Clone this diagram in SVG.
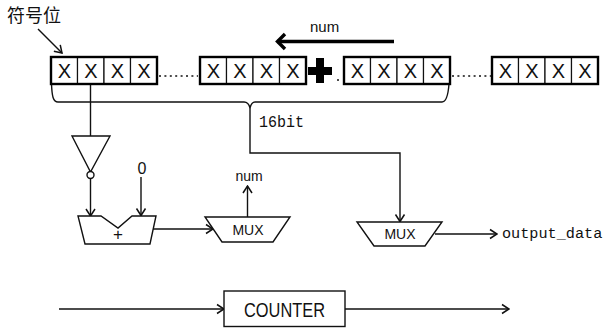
<svg xmlns="http://www.w3.org/2000/svg" width="604" height="328" viewBox="0 0 604 328">
<style>
.cell{fill:#fff;stroke:#111;stroke-width:1.2}
.frame{fill:none;stroke:#000;stroke-width:2.4}
.x{font:20px "Liberation Sans",sans-serif;text-anchor:middle;fill:#111}
.mono{font-family:"Liberation Mono","Noto Sans CJK SC",monospace;fill:#111}
.sans{font-family:"Liberation Sans",sans-serif;fill:#111}
.shape{fill:#fff;stroke:#111;stroke-width:1.4}
.line{fill:none;stroke:#111;stroke-width:1.4}
.dots{fill:none;stroke:#111;stroke-width:1.4;stroke-dasharray:2 3.400}
</style>
<defs>
<marker id="a" viewBox="0 0 12 12" refX="11" refY="6" markerWidth="12" markerHeight="12" markerUnits="userSpaceOnUse" orient="auto"><path d="M4 1.500L11 6L4 10.500" fill="none" stroke="#111" stroke-width="1.500"/></marker>
<marker id="b" viewBox="0 0 20 20" refX="12" refY="10" markerWidth="20" markerHeight="20" markerUnits="userSpaceOnUse" orient="auto"><path d="M4 2.500L11.500 10L4 17.500" fill="none" stroke="#000" stroke-width="3.400"/></marker>
<g id="reg"><rect class="cell" x="0" y="0" width="26.500" height="27"/><rect class="cell" x="26.500" y="0" width="26.500" height="27"/><rect class="cell" x="53" y="0" width="26.500" height="27"/><rect class="cell" x="79.500" y="0" width="26.500" height="27"/><rect class="frame" x="0" y="0" width="106" height="27"/><text class="x" x="13.300" y="21">X</text><text class="x" x="39.800" y="21">X</text><text class="x" x="66.300" y="21">X</text><text class="x" x="92.800" y="21">X</text></g>
</defs>
<g id="connectors">
<path class="line" d="M38 29L62 53" marker-end="url(#a)"/>
<path class="line" d="M90.500 84V136"/>
<path class="line" d="M90.500 179V216" marker-end="url(#a)"/>
<path class="line" d="M141 177V215.500" marker-end="url(#a)"/>
<path class="line" d="M153 229H213" marker-end="url(#a)"/>
<path class="line" d="M247.500 217V186" marker-end="url(#a)"/>
<path class="line" d="M250 108V153H400V221.500" marker-end="url(#a)"/>
<path class="line" d="M435 234H497" marker-end="url(#a)"/>
<path class="line" d="M59 309H224" marker-end="url(#a)"/>
<path class="line" d="M345 309H509" marker-end="url(#a)"/>
<path class="line" d="M51.500 84C52 96 53 102 58 102H244C247 102 249 104 250 108C251 104 252 102 255 102H442C446 102 448 97 449 84"/>
<path d="M394 41.500H277" fill="none" stroke="#000" stroke-width="3.400" marker-end="url(#b)"/>
<path class="dots" d="M159 76H198M452 76H491"/>
<path class="dots" d="M337 80H339"/>
</g>
<g id="sign-label"><text x="7" y="22" font-size="18" font-family="'Noto Sans CJK SC',sans-serif" fill="#111">符号位</text></g>
<g id="reg-1"><use href="#reg" x="51" y="57"/></g>
<g id="reg-2"><use href="#reg" x="200" y="57"/></g>
<g id="reg-3"><use href="#reg" x="344" y="57"/></g>
<g id="reg-4"><use href="#reg" x="492" y="57"/></g>
<g id="plus-mark"><path d="M316 58H324V67H332V75H324V83H316V75H308V67H316Z" fill="#000"/></g>
<g id="num-top"><text class="sans" x="310" y="32" font-size="15">num</text></g>
<g id="bits"><text class="mono" x="259" y="127" font-size="17" textLength="45" lengthAdjust="spacingAndGlyphs">16bit</text></g>
<g id="inverter"><path class="shape" d="M72 136H110L90.500 172Z"/><circle class="shape" cx="90.500" cy="175" r="3.500"/></g>
<g id="zero"><text class="sans" x="142" y="174" font-size="16" text-anchor="middle">0</text></g>
<g id="adder"><path class="shape" d="M78 216H101L118 228L132 216H156L150 244H85Z"/><text class="sans" x="118" y="240" font-size="17" text-anchor="middle">+</text></g>
<g id="mux-1"><path class="shape" d="M205 217H290L273 242H222Z"/><text class="sans" x="248" y="235" font-size="14" text-anchor="middle">MUX</text></g>
<g id="num-out"><text class="sans" x="249" y="181" font-size="14" text-anchor="middle">num</text></g>
<g id="mux-2"><path class="shape" d="M357 222H442L425 246H374Z"/><text class="sans" x="400" y="239" font-size="14" text-anchor="middle">MUX</text></g>
<g id="output"><text class="mono" x="502" y="238" font-size="15.200">output_data</text></g>
<g id="counter"><rect class="shape" x="224" y="291" width="121" height="35.500"/><text class="sans" x="244" y="317" font-size="21" textLength="81" lengthAdjust="spacingAndGlyphs">COUNTER</text></g>
</svg>
